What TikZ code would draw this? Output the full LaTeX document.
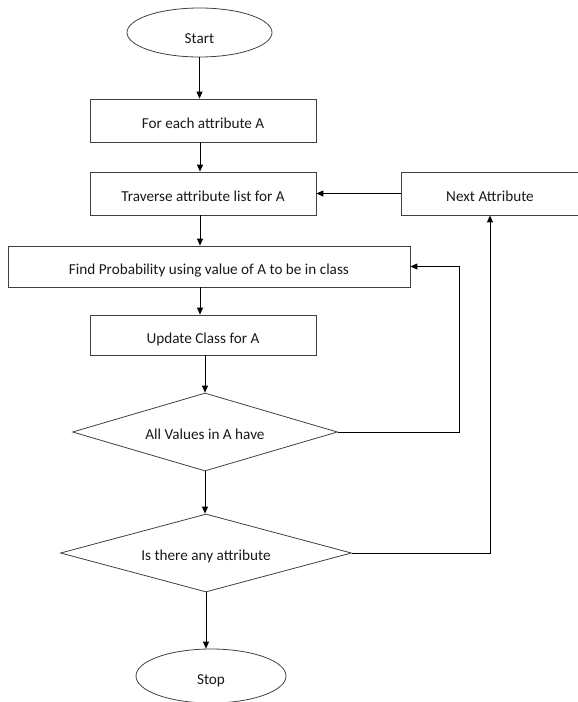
\documentclass[tikz,border=0pt]{standalone}
\usepackage{fontspec}
\setmainfont{Carlito}
\usetikzlibrary{shapes.geometric,arrows.meta}
\tikzset{
  base/.style={draw=black!75, line width=0.8pt, inner sep=0pt, text=black!90, font=\fontsize{15.2}{17}\selectfont, text height=16.5pt, text depth=0pt},
  box/.style={base, rectangle},
  term/.style={base, ellipse},
  decision/.style={base, diamond, aspect=3},
  conn/.style={draw=black, line width=0.9pt, -{Triangle[length=7pt,width=6pt]}}
}
\begin{document}
\begin{tikzpicture}[x=1pt,y=-1pt]
\useasboundingbox (0,0) rectangle (578,702);
\node[term, minimum width=145pt, minimum height=49pt, text height=21.5pt] (start) at (199.5,32.5) {Start};
\node[box, minimum width=226pt, minimum height=43pt] (b1) at (203,120.5) {For each attribute A};
\node[box, minimum width=226pt, minimum height=43pt] (b2) at (203,193.5) {Traverse attribute list for A};
\node[box, minimum width=178pt, minimum height=43pt] (next) at (490,193.5) {Next Attribute};
\node[box, minimum width=402pt, minimum height=41pt] (b3) at (209,266.5) {Find Probability using value of A to be in class};
\node[box, minimum width=226pt, minimum height=40pt] (b4) at (203,335) {Update Class for A};
\node[decision, minimum width=265pt, minimum height=78pt, text height=14pt] (d1) at (205,432) {All Values in A have};
\node[decision, minimum width=291pt, minimum height=78pt, text height=14pt] (d2) at (206,553) {Is there any attribute};
\node[term, minimum width=150pt, minimum height=54pt, text height=17.5pt] (stop) at (211,676) {Stop};
\coordinate (l1) at (459,432);
\coordinate (l2) at (490,553);

\draw[conn] (start.south) -- (start.south |- b1.north);
\draw[conn] ([xshift=-3pt]b1.south) -- ([xshift=-3pt]b2.north);
\draw[conn] (next.west) -- (b2.east);
\draw[conn] ([xshift=-3pt]b2.south) -- ([xshift=-3pt]b2.south |- b3.north);
\draw[conn] ([xshift=-9pt]b3.south) -- ([xshift=-3pt]b4.north);
\draw[conn] ([xshift=2pt]b4.south) -- (d1.north);
\draw[conn] (d1.east) -- (l1) |- (b3.east);
\draw[conn] (d1.south) -- (d1.south |- d2.north);
\draw[conn] (d2.east) -- (l2) -- (l2 |- next.south);
\draw[conn] (d2.south) -- ([xshift=-5pt]stop.north);
\end{tikzpicture}
\end{document}
